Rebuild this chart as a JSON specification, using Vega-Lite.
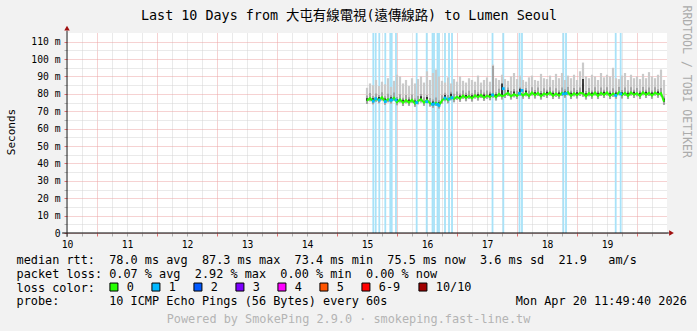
{
  "$schema": "https://vega.github.io/schema/vega-lite/v6.json",
  "width": 600,
  "height": 200,
  "autosize": {"type": "none"},
  "padding": {"left": 67, "top": 33, "right": 30, "bottom": 98},
  "background": "#f2f2f2",
  "config": {
    "view": {"fill": "#ffffff", "stroke": null},
    "font": "DejaVu Sans Mono"
  },
  "title": {
    "text": "Powered by SmokePing 2.9.0 · smokeping.fast-line.tw",
    "orient": "bottom",
    "anchor": "middle",
    "frame": "group",
    "dx": -18.5,
    "offset": 6,
    "font": "DejaVu Sans Mono",
    "fontSize": 11.85,
    "fontWeight": "normal",
    "color": "#b4b4b4"
  },
  "datasets": {
    "smoke": [
      {"t": 15.00, "med": 76.0, "lo": 74.2, "mg": 79.0, "hi": 83.5, "dk": 77.5},
      {"t": 15.05, "med": 77.5, "lo": 75.7, "mg": 80.5, "hi": 86.0, "dk": 77.5},
      {"t": 15.10, "med": 75.8, "lo": 74.0, "mg": 78.8, "hi": 85.0, "dk": 77.5},
      {"t": 15.15, "med": 77.2, "lo": 75.4, "mg": 80.2, "hi": 88.0, "dk": 77.2},
      {"t": 15.20, "med": 76.4, "lo": 74.6, "mg": 79.4, "hi": 84.5, "dk": 78.2},
      {"t": 15.25, "med": 78.0, "lo": 76.2, "mg": 81.0, "hi": 87.0, "dk": 78.0},
      {"t": 15.30, "med": 75.6, "lo": 73.8, "mg": 78.6, "hi": 85.5, "dk": 77.4},
      {"t": 15.35, "med": 77.0, "lo": 75.2, "mg": 80.0, "hi": 89.0, "dk": 77.0},
      {"t": 15.40, "med": 76.2, "lo": 74.4, "mg": 79.2, "hi": 84.0, "dk": 78.0},
      {"t": 15.45, "med": 77.8, "lo": 76.0, "mg": 80.8, "hi": 87.5, "dk": 77.8},
      {"t": 15.50, "med": 75.2, "lo": 73.4, "mg": 78.2, "hi": 91.0, "dk": 77.0},
      {"t": 15.55, "med": 76.8, "lo": 75.0, "mg": 79.8, "hi": 90.0, "dk": 76.8},
      {"t": 15.60, "med": 74.8, "lo": 73.0, "mg": 77.8, "hi": 86.0, "dk": 76.6},
      {"t": 15.65, "med": 76.4, "lo": 74.6, "mg": 79.4, "hi": 88.0, "dk": 76.4},
      {"t": 15.70, "med": 75.0, "lo": 73.2, "mg": 78.0, "hi": 84.5, "dk": 76.8},
      {"t": 15.75, "med": 76.6, "lo": 74.8, "mg": 79.6, "hi": 89.0, "dk": 76.6},
      {"t": 15.80, "med": 74.4, "lo": 72.6, "mg": 77.4, "hi": 86.0, "dk": 76.2},
      {"t": 15.85, "med": 75.8, "lo": 74.0, "mg": 78.8, "hi": 88.5, "dk": 75.8},
      {"t": 15.90, "med": 76.9, "lo": 75.1, "mg": 79.9, "hi": 90.0, "dk": 78.7},
      {"t": 15.95, "med": 75.0, "lo": 73.2, "mg": 78.0, "hi": 86.5, "dk": 75.0},
      {"t": 16.00, "med": 76.4, "lo": 74.6, "mg": 79.4, "hi": 93.0, "dk": 78.2},
      {"t": 16.05, "med": 74.6, "lo": 72.8, "mg": 77.6, "hi": 88.0, "dk": 74.6},
      {"t": 16.10, "med": 73.8, "lo": 72.0, "mg": 76.8, "hi": 92.0, "dk": 75.6},
      {"t": 16.15, "med": 74.9, "lo": 73.1, "mg": 77.9, "hi": 94.0, "dk": 74.9},
      {"t": 16.20, "med": 73.4, "lo": 71.6, "mg": 76.4, "hi": 90.0, "dk": 75.2},
      {"t": 16.25, "med": 76.2, "lo": 74.4, "mg": 79.2, "hi": 87.5, "dk": 76.2},
      {"t": 16.30, "med": 77.6, "lo": 75.8, "mg": 80.6, "hi": 86.5, "dk": 79.4},
      {"t": 16.35, "med": 76.4, "lo": 74.6, "mg": 79.4, "hi": 89.5, "dk": 76.4},
      {"t": 16.40, "med": 78.2, "lo": 76.4, "mg": 81.2, "hi": 86.0, "dk": 80.0},
      {"t": 16.45, "med": 77.0, "lo": 75.2, "mg": 80.0, "hi": 88.5, "dk": 77.0},
      {"t": 16.50, "med": 78.4, "lo": 76.6, "mg": 81.4, "hi": 87.0, "dk": 78.4},
      {"t": 16.55, "med": 77.2, "lo": 75.4, "mg": 80.2, "hi": 90.0, "dk": 79.0},
      {"t": 16.60, "med": 79.0, "lo": 77.2, "mg": 82.0, "hi": 87.5, "dk": 79.0},
      {"t": 16.65, "med": 77.6, "lo": 75.8, "mg": 80.6, "hi": 86.5, "dk": 79.4},
      {"t": 16.70, "med": 78.8, "lo": 77.0, "mg": 81.8, "hi": 89.0, "dk": 78.8},
      {"t": 16.75, "med": 77.4, "lo": 75.6, "mg": 80.4, "hi": 88.0, "dk": 79.2},
      {"t": 16.80, "med": 79.2, "lo": 77.4, "mg": 82.2, "hi": 87.0, "dk": 79.2},
      {"t": 16.85, "med": 78.0, "lo": 76.2, "mg": 81.0, "hi": 90.5, "dk": 79.8},
      {"t": 16.90, "med": 79.4, "lo": 77.6, "mg": 82.4, "hi": 86.5, "dk": 79.4},
      {"t": 16.95, "med": 77.8, "lo": 76.0, "mg": 80.8, "hi": 88.0, "dk": 79.6},
      {"t": 17.00, "med": 79.0, "lo": 77.2, "mg": 82.0, "hi": 89.5, "dk": 79.0},
      {"t": 17.05, "med": 78.2, "lo": 76.4, "mg": 81.2, "hi": 87.0, "dk": 80.0},
      {"t": 17.10, "med": 79.6, "lo": 77.8, "mg": 96.0, "hi": 96.8, "dk": 79.6},
      {"t": 17.15, "med": 78.0, "lo": 76.2, "mg": 81.0, "hi": 89.0, "dk": 79.8},
      {"t": 17.20, "med": 80.0, "lo": 78.2, "mg": 83.0, "hi": 88.0, "dk": 80.0},
      {"t": 17.25, "med": 78.6, "lo": 76.8, "mg": 81.6, "hi": 91.0, "dk": 86.0},
      {"t": 17.30, "med": 79.4, "lo": 77.6, "mg": 82.4, "hi": 88.5, "dk": 79.4},
      {"t": 17.35, "med": 80.6, "lo": 78.8, "mg": 83.6, "hi": 87.5, "dk": 82.2},
      {"t": 17.40, "med": 78.6, "lo": 76.8, "mg": 81.6, "hi": 90.0, "dk": 78.6},
      {"t": 17.45, "med": 79.8, "lo": 78.0, "mg": 82.8, "hi": 92.0, "dk": 81.4},
      {"t": 17.50, "med": 78.8, "lo": 77.0, "mg": 81.8, "hi": 88.5, "dk": 78.8},
      {"t": 17.55, "med": 80.6, "lo": 78.8, "mg": 83.6, "hi": 90.5, "dk": 83.0},
      {"t": 17.60, "med": 79.0, "lo": 77.2, "mg": 82.0, "hi": 88.0, "dk": 79.0},
      {"t": 17.65, "med": 80.4, "lo": 78.6, "mg": 83.4, "hi": 87.0, "dk": 82.0},
      {"t": 17.70, "med": 78.8, "lo": 77.0, "mg": 81.8, "hi": 89.5, "dk": 78.8},
      {"t": 17.75, "med": 80.8, "lo": 79.0, "mg": 83.8, "hi": 90.5, "dk": 80.8},
      {"t": 17.80, "med": 79.2, "lo": 77.4, "mg": 82.2, "hi": 88.0, "dk": 81.0},
      {"t": 17.85, "med": 80.6, "lo": 78.8, "mg": 83.6, "hi": 87.5, "dk": 80.6},
      {"t": 17.90, "med": 78.6, "lo": 76.8, "mg": 81.6, "hi": 91.5, "dk": 80.4},
      {"t": 17.95, "med": 80.2, "lo": 78.4, "mg": 83.2, "hi": 89.0, "dk": 80.2},
      {"t": 18.00, "med": 79.4, "lo": 77.6, "mg": 82.4, "hi": 88.5, "dk": 81.2},
      {"t": 18.05, "med": 80.8, "lo": 79.0, "mg": 83.8, "hi": 90.5, "dk": 80.8},
      {"t": 18.10, "med": 78.8, "lo": 77.0, "mg": 81.8, "hi": 88.0, "dk": 80.6},
      {"t": 18.15, "med": 80.2, "lo": 78.4, "mg": 83.2, "hi": 91.5, "dk": 80.2},
      {"t": 18.20, "med": 79.0, "lo": 77.2, "mg": 82.0, "hi": 89.0, "dk": 80.8},
      {"t": 18.25, "med": 80.6, "lo": 78.8, "mg": 83.6, "hi": 92.0, "dk": 80.6},
      {"t": 18.30, "med": 79.6, "lo": 77.8, "mg": 82.6, "hi": 88.0, "dk": 81.4},
      {"t": 18.35, "med": 81.0, "lo": 79.2, "mg": 84.0, "hi": 90.5, "dk": 81.0},
      {"t": 18.40, "med": 78.8, "lo": 77.0, "mg": 81.8, "hi": 89.0, "dk": 80.6},
      {"t": 18.45, "med": 80.4, "lo": 78.6, "mg": 83.4, "hi": 91.0, "dk": 80.4},
      {"t": 18.50, "med": 79.2, "lo": 77.4, "mg": 82.2, "hi": 88.0, "dk": 81.0},
      {"t": 18.55, "med": 80.6, "lo": 78.8, "mg": 83.6, "hi": 93.0, "dk": 80.6},
      {"t": 18.60, "med": 80.2, "lo": 78.4, "mg": 86.0, "hi": 98.0, "dk": 88.5},
      {"t": 18.65, "med": 78.6, "lo": 76.8, "mg": 81.6, "hi": 90.0, "dk": 80.4},
      {"t": 18.70, "med": 80.4, "lo": 78.6, "mg": 83.4, "hi": 89.0, "dk": 80.4},
      {"t": 18.75, "med": 79.0, "lo": 77.2, "mg": 82.0, "hi": 91.0, "dk": 80.8},
      {"t": 18.80, "med": 80.8, "lo": 79.0, "mg": 83.8, "hi": 90.0, "dk": 80.8},
      {"t": 18.85, "med": 78.8, "lo": 77.0, "mg": 81.8, "hi": 88.0, "dk": 80.6},
      {"t": 18.90, "med": 80.6, "lo": 78.8, "mg": 83.6, "hi": 92.0, "dk": 80.6},
      {"t": 18.95, "med": 79.4, "lo": 77.6, "mg": 82.4, "hi": 89.5, "dk": 81.2},
      {"t": 19.00, "med": 80.8, "lo": 79.0, "mg": 83.8, "hi": 91.0, "dk": 80.8},
      {"t": 19.05, "med": 78.8, "lo": 77.0, "mg": 81.8, "hi": 90.0, "dk": 80.6},
      {"t": 19.10, "med": 80.2, "lo": 78.4, "mg": 83.2, "hi": 95.0, "dk": 80.2},
      {"t": 19.15, "med": 79.0, "lo": 77.2, "mg": 82.0, "hi": 89.0, "dk": 80.8},
      {"t": 19.20, "med": 81.0, "lo": 79.2, "mg": 84.0, "hi": 88.5, "dk": 81.0},
      {"t": 19.25, "med": 79.2, "lo": 77.4, "mg": 82.2, "hi": 90.5, "dk": 81.0},
      {"t": 19.30, "med": 80.6, "lo": 78.8, "mg": 83.6, "hi": 92.0, "dk": 80.6},
      {"t": 19.35, "med": 78.8, "lo": 77.0, "mg": 81.8, "hi": 88.0, "dk": 80.6},
      {"t": 19.40, "med": 80.8, "lo": 79.0, "mg": 83.8, "hi": 91.0, "dk": 80.8},
      {"t": 19.45, "med": 79.4, "lo": 77.6, "mg": 82.4, "hi": 89.0, "dk": 81.2},
      {"t": 19.50, "med": 80.4, "lo": 78.6, "mg": 83.4, "hi": 90.0, "dk": 80.4},
      {"t": 19.55, "med": 78.8, "lo": 77.0, "mg": 81.8, "hi": 88.5, "dk": 80.6},
      {"t": 19.60, "med": 81.0, "lo": 79.2, "mg": 84.0, "hi": 91.5, "dk": 81.0},
      {"t": 19.65, "med": 79.4, "lo": 77.6, "mg": 82.4, "hi": 89.0, "dk": 81.2},
      {"t": 19.70, "med": 80.6, "lo": 78.8, "mg": 83.6, "hi": 92.5, "dk": 80.6},
      {"t": 19.75, "med": 79.0, "lo": 77.2, "mg": 82.0, "hi": 90.0, "dk": 80.8},
      {"t": 19.80, "med": 80.8, "lo": 79.0, "mg": 83.8, "hi": 89.0, "dk": 80.8},
      {"t": 19.85, "med": 79.6, "lo": 77.8, "mg": 82.6, "hi": 91.0, "dk": 81.4},
      {"t": 19.90, "med": 80.4, "lo": 78.6, "mg": 83.4, "hi": 94.0, "dk": 80.4},
      {"t": 19.95, "med": 75.5, "lo": 73.7, "mg": 78.5, "hi": 88.0, "dk": 77.3}
    ],
    "loss": [
      {"t": 15.105, "med": 75.8, "loss": "1"},
      {"t": 15.145, "med": 77.2, "loss": "1"},
      {"t": 15.205, "med": 76.4, "loss": "1"},
      {"t": 15.305, "med": 75.6, "loss": "1"},
      {"t": 15.388, "med": 76.4, "loss": "1"},
      {"t": 15.412, "med": 76.5, "loss": "1"},
      {"t": 15.483, "med": 76.5, "loss": "1"},
      {"t": 15.828, "med": 75.0, "loss": "1"},
      {"t": 15.995, "med": 75.5, "loss": "1"},
      {"t": 16.092, "med": 74.0, "loss": "1"},
      {"t": 16.117, "med": 74.2, "loss": "1"},
      {"t": 16.175, "med": 74.0, "loss": "1"},
      {"t": 16.200, "med": 73.4, "loss": "1"},
      {"t": 16.300, "med": 77.6, "loss": "1"},
      {"t": 16.367, "med": 77.0, "loss": "1"},
      {"t": 16.417, "med": 77.8, "loss": "1"},
      {"t": 17.092, "med": 79.4, "loss": "1"},
      {"t": 17.272, "med": 83.0, "loss": "1"},
      {"t": 17.542, "med": 80.3, "loss": "1"},
      {"t": 17.583, "med": 82.0, "loss": "1"},
      {"t": 18.272, "med": 80.0, "loss": "1"},
      {"t": 18.317, "med": 80.2, "loss": "1"},
      {"t": 19.145, "med": 79.1, "loss": "1"},
      {"t": 19.228, "med": 80.0, "loss": "1"}
    ]
  },
  "layer": [
    {
      "data": {"name": "loss"},
      "mark": {"type": "rule", "color": "#a8e2f8", "strokeWidth": 1.8},
      "encoding": {
        "x": {
          "field": "t", "type": "quantitative",
          "scale": {"domain": [10, 20], "nice": false, "zero": false},
          "axis": {
            "orient": "bottom",
            "values": [10,10.25,10.5,10.75,11,11.25,11.5,11.75,12,12.25,12.5,12.75,13,13.25,13.5,13.75,14,14.25,14.5,14.75,15,15.25,15.5,15.75,16,16.25,16.5,16.75,17,17.25,17.5,17.75,18,18.25,18.5,18.75,19,19.25,19.5,19.75],
            "labelExpr": "datum.value % 1 === 0 ? format(datum.value, 'd') : ''",
            "labelFont": "DejaVu Sans Mono",
            "labelFontSize": 9.7,
            "labelColor": "#000000",
            "labelPadding": 3,
            "labelOverlap": false,
            "labelFlush": false,
            "domain": false,
            "ticks": true,
            "tickSize": 3,
            "tickColor": {"condition": {"test": "datum.value % 1 === 0.5", "value": "#e07070"}, "value": "#b0b0b0"},
            "grid": true,
            "gridColor": {"condition": {"test": "datum.value % 1 === 0.5", "value": "#eda5a5"}, "value": "#d4d4d4"},
            "gridDash": [1, 1],
            "gridWidth": 1,
            "title": [
              "median rtt:\u00a0\u00a078.0 ms avg\u00a0\u00a087.3 ms max\u00a0\u00a073.4 ms min\u00a0\u00a075.5 ms now\u00a0\u00a03.6 ms sd\u00a0\u00a021.9\u00a0\u00a0\u00a0am/s",
              "packet loss:\u00a00.07 % avg\u00a0\u00a02.92 % max\u00a0\u00a00.00 % min\u00a0\u00a00.00 % now",
              "loss color:",
              "probe:\u00a0\u00a0\u00a0\u00a0\u00a0\u00a0\u00a010 ICMP Echo Pings (56 Bytes) every 60s\u00a0\u00a0\u00a0\u00a0\u00a0\u00a0\u00a0\u00a0\u00a0\u00a0\u00a0\u00a0\u00a0\u00a0\u00a0\u00a0\u00a0\u00a0Mon Apr 20 11:49:40 2026"
            ],
            "titleFont": "DejaVu Sans Mono",
            "titleFontSize": 11.85,
            "titleFontWeight": "normal",
            "titleColor": "#000000",
            "titleAlign": "left",
            "titleBaseline": "alphabetic",
            "titleX": -51,
            "titleY": 30.3,
            "titleLineHeight": 13.9
          }
        },
        "y": {
          "datum": 0, "type": "quantitative",
          "scale": {"domain": [0, 115], "nice": false, "zero": false},
          "axis": {
            "orient": "left",
            "values": [0,5,10,15,20,25,30,35,40,45,50,55,60,65,70,75,80,85,90,95,100,105,110],
            "labelExpr": "datum.value % 10 === 0 ? (datum.value === 0 ? '0' : datum.value + ' m') : ''",
            "labelFont": "DejaVu Sans Mono",
            "labelFontSize": 9.7,
            "labelColor": "#000000",
            "labelPadding": 4,
            "labelOverlap": false,
            "labelFlush": false,
            "domain": false,
            "ticks": true,
            "tickSize": 3,
            "tickColor": {"condition": {"test": "datum.value % 10 === 0", "value": "#e07070"}, "value": "#b0b0b0"},
            "grid": true,
            "gridColor": {"condition": {"test": "datum.value % 10 === 0", "value": "#eda5a5"}, "value": "#d4d4d4"},
            "gridDash": [1, 1],
            "gridWidth": 1,
            "title": "Seconds",
            "titleFont": "DejaVu Sans Mono",
            "titleFontSize": 11,
            "titleFontWeight": "normal",
            "titleColor": "#000000",
            "titleAngle": 270,
            "titleAlign": "center",
            "titleBaseline": "alphabetic",
            "titleX": -53,
            "titleY": 98.5
          }
        },
        "y2": {"datum": 115}
      }
    },
    {
      "data": {"name": "smoke"},
      "mark": {"type": "rule", "color": "#cacaca", "strokeWidth": 2.2},
      "encoding": {
        "x": {
          "field": "t", "type": "quantitative",
          "scale": {"domain": [10, 20], "nice": false, "zero": false},
          "axis": {
            "orient": "top",
            "labels": false, "ticks": false, "domain": false, "grid": false,
            "title": "Last 10 Days from 大屯有線電視(遠傳線路) to Lumen Seoul",
            "titleFont": "DejaVu Sans Mono, Noto Sans CJK TC",
            "titleFontSize": 13.4,
            "titleFontWeight": "normal",
            "titleColor": "#000000",
            "titleAlign": "center",
            "titleBaseline": "alphabetic",
            "titleX": 281.5,
            "titleY": -13.7
          }
        },
        "y": {
          "field": "lo", "type": "quantitative",
          "scale": {"domain": [0, 115], "nice": false, "zero": false},
          "axis": {
            "orient": "right",
            "labels": false, "ticks": false, "domain": false, "grid": false,
            "title": "RRDTOOL / TOBI OETIKER",
            "titleFont": "DejaVu Sans Mono",
            "titleFontSize": 11.5,
            "titleFontWeight": "normal",
            "titleColor": "#ababab",
            "titleAngle": 90,
            "titleAlign": "left",
            "titleBaseline": "alphabetic",
            "titleX": 15,
            "titleY": -28
          }
        },
        "y2": {"field": "hi"}
      }
    },
    {
      "data": {"name": "smoke"},
      "mark": {"type": "rule", "color": "#a4a4a4", "strokeWidth": 2},
      "encoding": {
        "x": {"field": "t", "type": "quantitative", "scale": {"domain": [10, 20], "nice": false, "zero": false}, "axis": null},
        "y": {"field": "lo", "type": "quantitative", "scale": {"domain": [0, 115], "nice": false, "zero": false}, "axis": null},
        "y2": {"field": "mg"}
      }
    },
    {
      "data": {"name": "smoke"},
      "mark": {"type": "rule", "color": "#1a1a1a", "strokeWidth": 1.6},
      "encoding": {
        "x": {"field": "t", "type": "quantitative", "scale": {"domain": [10, 20], "nice": false, "zero": false}, "axis": null},
        "y": {"field": "med", "type": "quantitative", "scale": {"domain": [0, 115], "nice": false, "zero": false}, "axis": null},
        "y2": {"field": "dk"}
      }
    },
    {
      "data": {"name": "smoke"},
      "mark": {"type": "line", "color": "#26ff00", "strokeWidth": 2},
      "encoding": {
        "x": {"field": "t", "type": "quantitative", "scale": {"domain": [10, 20], "nice": false, "zero": false}, "axis": null},
        "y": {"field": "med", "type": "quantitative", "scale": {"domain": [0, 115], "nice": false, "zero": false}, "axis": null}
      }
    },
    {
      "data": {"name": "loss"},
      "mark": {"type": "square", "size": 8, "opacity": 1},
      "encoding": {
        "x": {"field": "t", "type": "quantitative", "scale": {"domain": [10, 20], "nice": false, "zero": false}, "axis": null},
        "y": {"field": "med", "type": "quantitative", "scale": {"domain": [0, 115], "nice": false, "zero": false}, "axis": null},
        "color": {
          "field": "loss", "type": "nominal",
          "scale": {
            "domain": ["0", "1", "2", "3", "4", "5", "6-9", "10/10"],
            "range": ["#26ff00", "#00b8ff", "#0059ff", "#7e00ff", "#ff00ff", "#ff5500", "#ff0000", "#a10000"]
          },
          "legend": {
            "title": null,
            "orient": "none",
            "legendX": 41,
            "legendY": 248,
            "direction": "horizontal",
            "symbolType": "square",
            "symbolSize": 64,
            "symbolStrokeColor": "#000000",
            "symbolStrokeWidth": 1,
            "symbolOpacity": 1,
            "labelFont": "DejaVu Sans Mono",
            "labelFontSize": 11.85,
            "labelColor": "#000000",
            "labelOffset": 7,
            "columnPadding": 15,
            "padding": 0,
            "labelLimit": 200
          }
        }
      }
    },
    {
      "data": {"values": [{}]},
      "mark": {"type": "rule", "color": "#000000", "strokeWidth": 1},
      "encoding": {
        "x": {"datum": 9.92, "type": "quantitative", "scale": {"domain": [10, 20], "nice": false, "zero": false}, "axis": null},
        "x2": {"datum": 20.03},
        "y": {"datum": 0, "type": "quantitative", "scale": {"domain": [0, 115], "nice": false, "zero": false}, "axis": null}
      }
    },
    {
      "data": {"values": [{}]},
      "mark": {"type": "rule", "color": "#222222", "strokeWidth": 1},
      "encoding": {
        "x": {"datum": 10, "type": "quantitative", "scale": {"domain": [10, 20], "nice": false, "zero": false}, "axis": null},
        "y": {"datum": -2.2, "type": "quantitative", "scale": {"domain": [0, 115], "nice": false, "zero": false}, "axis": null},
        "y2": {"datum": 116.3}
      }
    },
    {
      "data": {"values": [{}]},
      "mark": {"type": "point", "shape": "triangle-right", "filled": true, "size": 30, "color": "#a01010", "opacity": 1},
      "encoding": {
        "x": {"datum": 20.075, "type": "quantitative", "scale": {"domain": [10, 20], "nice": false, "zero": false}, "axis": null},
        "y": {"datum": 0, "type": "quantitative", "scale": {"domain": [0, 115], "nice": false, "zero": false}, "axis": null}
      }
    },
    {
      "data": {"values": [{}]},
      "mark": {"type": "point", "shape": "triangle-up", "filled": true, "size": 30, "color": "#a01010", "opacity": 1},
      "encoding": {
        "x": {"datum": 10, "type": "quantitative", "scale": {"domain": [10, 20], "nice": false, "zero": false}, "axis": null},
        "y": {"datum": 117.8, "type": "quantitative", "scale": {"domain": [0, 115], "nice": false, "zero": false}, "axis": null}
      }
    }
  ],
  "resolve": {"axis": {"x": "independent", "y": "independent"}}
}
